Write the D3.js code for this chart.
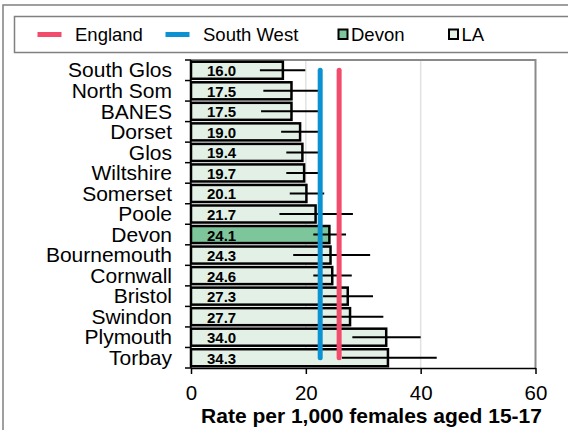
<!DOCTYPE html>
<html>
<head>
<meta charset="utf-8">
<script src="https://cdn.jsdelivr.net/npm/d3@7"></script>
<style>
  html, body { margin: 0; padding: 0; background: #fff; }
  svg { display: block; font-family: "Liberation Sans", Arial, sans-serif; }
</style>
</head>
<body>
<svg id="chart" width="568" height="430"></svg>
<script>
const categories = ["South Glos","North Som","BANES","Dorset","Glos","Wiltshire","Somerset","Poole","Devon","Bournemouth","Cornwall","Bristol","Swindon","Plymouth","Torbay"];
const values = [16.0,17.5,17.5,19.0,19.4,19.7,20.1,21.7,24.1,24.3,24.6,27.3,27.7,34.0,34.3];
const lowerCI = [12.0,12.6,12.2,15.7,16.6,16.6,17.2,15.4,21.3,17.8,21.3,23.0,22.9,28.1,26.3];
const upperCI = [19.9,22.5,22.8,22.4,22.4,22.4,23.2,28.2,27.0,31.2,28.0,31.7,33.5,40.0,42.8];
const englandRate = 25.8;
const southWestRate = 22.5;
const xTicks = [0, 20, 40, 60];
const highlight = "Devon";
const legendItems = [
  {label: "England", type: "line", color: "#f24b6c"},
  {label: "South West", type: "line", color: "#0a92d2"},
  {label: "Devon", type: "box", color: "#7dc59b"},
  {label: "LA", type: "box", color: "#e3f0e6"}
];
const xLabel = "Rate per 1,000 females aged 15-17";

(function () {
const svg = d3.select("#chart");
const pLeft = 191, pRight = 535.5, pTop = 60, pBottom = 368;

const x = d3.scaleLinear().domain([0, 60]).range([pLeft, pRight]);
const y = d3.scaleBand().domain(categories).range([pTop, pBottom]).paddingInner(0.17).paddingOuter(0.085);
const yb = d3.scaleBand().domain(categories).range([pTop, pBottom]);

// outer frame
svg.append("rect").attr("x", 3).attr("y", 5).attr("width", 600).attr("height", 500)
  .attr("fill", "none").attr("stroke", "#808080").attr("stroke-width", 1.5);

// legend box
svg.append("rect").attr("x", 14.5).attr("y", 16.5).attr("width", 600).attr("height", 36)
  .attr("fill", "#fff").attr("stroke", "#808080").attr("stroke-width", 1.5);

const legendX = [37.5, 165.5, 338, 448.5];
const lg = svg.append("g");
legendItems.forEach((d, i) => {
  const g = lg.append("g").attr("transform", `translate(${legendX[i]},0)`);
  if (d.type === "line") {
    g.append("line").attr("x1", 0).attr("x2", 24).attr("y1", 34.5).attr("y2", 34.5)
      .attr("stroke", d.color).attr("stroke-width", 5);
    g.append("text").attr("x", 37.5).attr("y", 41).attr("font-size", 18.5).attr("fill", "#000").text(d.label);
  } else {
    g.append("rect").attr("x", 0.5).attr("y", 29.5).attr("width", 9).attr("height", 9.5)
      .attr("fill", d.color).attr("stroke", "#000").attr("stroke-width", 2);
    g.append("text").attr("x", 13).attr("y", 41).attr("font-size", 18.5).attr("fill", "#000").text(d.label);
  }
});

// gridlines
svg.append("g").selectAll("line").data(xTicks.filter(t => t > 0 && t < 60)).join("line")
  .attr("x1", d => x(d)).attr("x2", d => x(d)).attr("y1", pTop).attr("y2", pBottom)
  .attr("stroke", "#e2e2e2").attr("stroke-width", 1.5);

// plot frame top & right
svg.append("path").attr("d", `M${pLeft},${pTop}H${pRight}V${pBottom}`)
  .attr("fill", "none").attr("stroke", "#8a8a8a").attr("stroke-width", 2);

// bars
svg.append("g").selectAll("rect").data(categories).join("rect")
  .attr("x", x(0))
  .attr("y", d => y(d))
  .attr("width", (d, i) => x(values[i]) - x(0))
  .attr("height", y.bandwidth())
  .attr("fill", d => d === highlight ? legendItems[2].color : legendItems[3].color)
  .attr("stroke", "#000").attr("stroke-width", 2.5);

// value labels
svg.append("g").selectAll("text").data(categories).join("text")
  .attr("x", x(0) + 16)
  .attr("y", d => yb(d) + yb.bandwidth() / 2 + 6)
  .attr("font-size", 15).attr("font-weight", "bold").attr("fill", "#000")
  .text((d, i) => values[i].toFixed(1));

// error bars
svg.append("g").selectAll("line").data(categories).join("line")
  .attr("x1", (d, i) => x(lowerCI[i])).attr("x2", (d, i) => x(upperCI[i]))
  .attr("y1", d => yb(d) + yb.bandwidth() / 2).attr("y2", d => yb(d) + yb.bandwidth() / 2)
  .attr("stroke", "#000").attr("stroke-width", 2);

// reference lines
const yFirst = yb(categories[0]) + yb.bandwidth() / 2;
const yLast = yb(categories[categories.length - 1]) + yb.bandwidth() / 2;
[[southWestRate, legendItems[1].color], [englandRate, legendItems[0].color]].forEach(([v, c]) => {
  svg.append("line").attr("x1", x(v)).attr("x2", x(v)).attr("y1", yFirst).attr("y2", yLast)
    .attr("stroke", c).attr("stroke-width", 5).attr("stroke-linecap", "round");
});

// y axis
const yAxisG = svg.append("g");
yAxisG.append("line").attr("x1", pLeft).attr("x2", pLeft).attr("y1", pTop).attr("y2", pBottom)
  .attr("stroke", "#000").attr("stroke-width", 1.5);
const bounds = categories.map(c => yb(c)).concat([pBottom]);
yAxisG.selectAll("line.tick").data(bounds).join("line").attr("class", "tick")
  .attr("x1", pLeft - 6).attr("x2", pLeft).attr("y1", d => d).attr("y2", d => d)
  .attr("stroke", "#000").attr("stroke-width", 1.5);
yAxisG.selectAll("text").data(categories).join("text")
  .attr("x", 172).attr("y", d => yb(d) + yb.bandwidth() / 2 + 7.2)
  .attr("text-anchor", "end").attr("font-size", 21).attr("fill", "#000")
  .text(d => d);

// x axis
const xAxis = d3.axisBottom(x).tickValues(xTicks).tickSize(6).tickSizeOuter(0).tickPadding(11);
const xg = svg.append("g").attr("transform", `translate(0,${pBottom})`).call(xAxis);
xg.select(".domain").attr("stroke", "#000").attr("stroke-width", 1.5);
xg.selectAll(".tick line").attr("stroke", "#000").attr("stroke-width", 1.5);
xg.selectAll(".tick text").attr("font-size", 20.5).attr("fill", "#000")
  .attr("font-family", "Liberation Sans, Arial, sans-serif").attr("dy", "0.71em");

svg.append("text").attr("x", 371.5).attr("y", 423).attr("text-anchor", "middle")
  .attr("font-size", 21).attr("font-weight", "bold").attr("fill", "#000").text(xLabel);
})();
</script>
</body>
</html>
